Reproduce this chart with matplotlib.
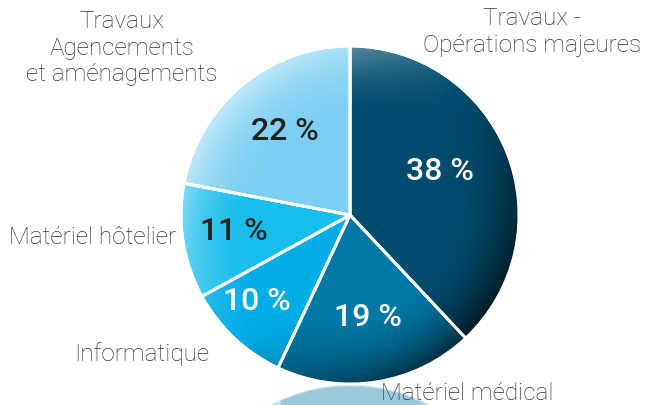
import numpy as np
import matplotlib.pyplot as plt
from matplotlib.patches import Circle

plt.rcParams["font.family"] = ["Roboto", "DejaVu Sans"]

# données
categories = ["Travaux -\nOpérations majeures", "Matériel médical", "Informatique",
              "Matériel hôtelier", "Travaux\nAgencements\net aménagements"]
values = [38, 19, 10, 11, 22]
pct_labels = ["38 %", "19 %", "10 %", "11 %", "22 %"]
colors = ["#004c6e", "#0078a6", "#00ade6", "#17bdeb", "#7ccff2"]
pct_colors = ["white", "white", "white", "#222222", "#222222"]

W, H = 646, 405
cx, cy, R = 350, 405 - 215, 169

fig = plt.figure(figsize=(W / 100, H / 100), dpi=100)
ax = fig.add_axes([0, 0, 1, 1])

# reflet sous le camembert
refl_cy = cy - 2 * R - 1
ax.pie(values, colors=colors, center=(cx, refl_cy), radius=R, startangle=-90,
       counterclock=True, wedgeprops=dict(edgecolor="white", linewidth=2, alpha=0.4),
       frame=True)

wedges, _ = ax.pie(values, colors=colors, center=(cx, cy), radius=R, startangle=90,
                   counterclock=False, wedgeprops=dict(edgecolor="white", linewidth=2),
                   frame=True)

# ombrage (clair en haut à gauche, sombre en bas à droite)
n = 400
xs = np.linspace(-1, 1, n)
X, Y = np.meshgrid(xs, xs[::-1])
r = np.sqrt(X ** 2 + Y ** 2) + 1e-9
s = (X * -0.75 + Y * 0.66) / r
f = np.clip((r - 0.55) / 0.45, 0, 1) ** 2
rgba = np.zeros((n, n, 4))
light = s > 0
rgba[light, :3] = 1.0
rgba[light, 3] = f[light] * s[light] * 0.55
rgba[~light, 3] = f[~light] * (-s[~light]) * 0.65
im = ax.imshow(rgba, extent=(cx - R, cx + R, cy - R, cy + R), origin="upper", zorder=3)
im.set_clip_path(Circle((cx, cy), R, transform=ax.transData))

# lignes blanches par-dessus
ax.pie(values, colors=["none"] * 5, center=(cx, cy), radius=R, startangle=90,
       counterclock=False, wedgeprops=dict(edgecolor="white", linewidth=2, fill=False, zorder=4),
       frame=True)

ax.set_xlim(0, W)
ax.set_ylim(0, H)
ax.set_aspect("equal")
ax.axis("off")

# pourcentages
pct_pos = [(440, 172), (368, 318), (257, 302), (234, 232), (285, 131)]
for (px, py), t, c in zip(pct_pos, pct_labels, pct_colors):
    ax.text(px, H - py, t, color=c, fontsize=23, fontweight="medium",
            ha="center", va="center", zorder=5)

# étiquettes
lab_pos = [(532, 32, "center"), (467, 393, "center"), (142, 354, "center"),
           (176, 237, "right"), (122, 48, "center")]
for (lx, ly, ha), t in zip(lab_pos, categories):
    ax.text(lx, H - ly, t, color="#333333", fontsize=17.5, fontweight="light",
            ha=ha, va="center", linespacing=1.22, zorder=5)

fig.savefig("out.png", dpi=100)
